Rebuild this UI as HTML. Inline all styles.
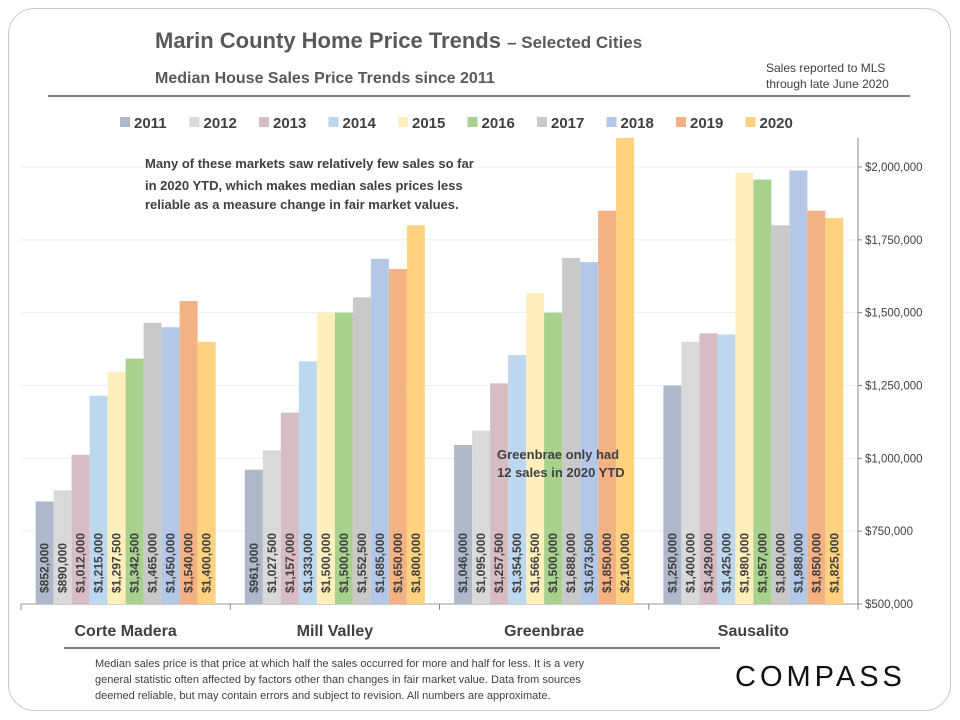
<!DOCTYPE html>
<html><head><meta charset="utf-8"><style>
body{margin:0;background:#fff;font-family:"Liberation Sans",sans-serif;}
#wrap{position:relative;width:960px;height:720px;overflow:hidden;}
</style></head><body>
<div id="wrap">
<svg id="svg" width="960" height="720" xmlns="http://www.w3.org/2000/svg" style="position:absolute;left:0;top:0">
<rect x="8.5" y="8.5" width="942" height="702" rx="26" fill="#fff" stroke="#c8c8c8"/>
<text x="155" y="48" font-size="22" font-weight="bold" fill="#595959">Marin County Home Price Trends <tspan font-size="17">– Selected Cities</tspan></text>
<text x="155" y="83" font-size="16" font-weight="bold" fill="#595959">Median House Sales Price Trends since 2011</text>
<text x="766" y="72" font-size="12" fill="#404040">Sales reported to MLS</text>
<text x="766" y="88" font-size="12" fill="#404040">through late June 2020</text>
<line x1="48" y1="96" x2="910" y2="96" stroke="#7f7f7f" stroke-width="2"/>
<g id="grid"></g><g id="bars"></g><g id="labels"></g><g id="axis"></g><g id="legend"></g>
<text x="145" y="168" font-size="13" font-weight="bold" fill="#404040">Many of these markets saw relatively few sales so far</text>
<text x="145" y="190" font-size="13" font-weight="bold" fill="#404040">in 2020 YTD, which makes median sales prices less</text>
<text x="145" y="209" font-size="13" font-weight="bold" fill="#404040">reliable as a measure change in fair market values.</text>
<text x="497" y="459" font-size="13" font-weight="bold" fill="#404040">Greenbrae  only  had</text>
<text x="497" y="477" font-size="13" font-weight="bold" fill="#404040">12 sales in 2020 YTD</text>
<line x1="64" y1="648" x2="720" y2="648" stroke="#7f7f7f" stroke-width="2"/>
<text x="95" y="667" font-size="11" fill="#404040">Median sales price is that price at which half the sales occurred for more and half for less. It is a very</text>
<text x="95" y="683" font-size="11" fill="#404040">general statistic often affected by factors other than changes in fair market value. Data from sources</text>
<text x="95" y="699" font-size="11" fill="#404040">deemed reliable, but may contain errors and subject to revision. All numbers are approximate.</text>
<text x="735" y="686" font-size="29" fill="#111" letter-spacing="4">COMPASS</text>
</svg>
</div>
<script>
const categories=["Corte Madera","Mill Valley","Greenbrae","Sausalito"];
const years=["2011","2012","2013","2014","2015","2016","2017","2018","2019","2020"];
const colors=["#adb9cb","#d9d9d9","#d6bdc4","#bdd7ee","#ffefbc","#a9d18e","#c9c9c9","#b4c7e7","#f4b183","#ffd27f"];
const corteMadera=[852000,890000,1012000,1215000,1297500,1342500,1465000,1450000,1540000,1400000];
const millValley=[961000,1027500,1157000,1333000,1500000,1500000,1552500,1685000,1650000,1800000];
const greenbrae=[1046000,1095000,1257500,1354500,1566500,1500000,1688000,1673500,1850000,2100000];
const sausalito=[1250000,1400000,1429000,1425000,1980000,1957000,1800000,1988000,1850000,1825000];
const series=[corteMadera,millValley,greenbrae,sausalito];
const yTicks=[500000,750000,1000000,1250000,1500000,1750000,2000000];
const NS="http://www.w3.org/2000/svg";
const X0=21,X1=858,Y0=604,YT=167;
const yScale=v=>Y0-(v-500000)/1500000*(Y0-YT);
const gw=(X1-X0)/categories.length,bw=18;
function mk(t,a,p){const e=document.createElementNS(NS,t);for(const k in a)e.setAttribute(k,a[k]);document.getElementById(p).appendChild(e);return e;}
const fmt=v=>"$"+v.toLocaleString("en-US");
yTicks.forEach(t=>{const y=yScale(t);
 const l=mk("line",{x1:X0,x2:X1,y1:y,y2:y,stroke:t==500000?"#999":"#eeeeee"},"grid");
 
 
 const k=mk("line",{x1:X1,x2:X1+4,y1:y,y2:y,stroke:"#888"},"axis");
 
 
 const tx=mk("text",{x:X1+7,y:y+4,"font-size":"11.5",fill:"#404040"},"axis");
 tx.textContent=fmt(t);
 
 
});
const ax=mk("line",{x1:X1,x2:X1,y1:138,y2:Y0,stroke:"#888"},"axis");


for(let g=0;g<=categories.length;g++){const x=X0+g*gw;
 const l=mk("line",{x1:x,x2:x,y1:Y0,y2:Y0+6,stroke:"#888"},"axis");
 
 }
categories.forEach((c,g)=>{
 const gx=X0+g*gw+(gw-bw*years.length)/2;
 series[g].forEach((v,i)=>{const x=gx+i*bw,y=yScale(v);
  const r=mk("rect",{x:x,y:y,width:bw,height:Y0-y,fill:colors[i]},"bars");
  
  
  const t=mk("text",{x:0,y:0,"font-size":"12","font-weight":"bold",fill:"#404040",transform:`translate(${x+bw/2+4},593) rotate(-90)`},"labels");
  t.textContent=fmt(v);
  
  
 });
 const t=mk("text",{x:X0+g*gw+gw/2,y:636,"font-size":"16","font-weight":"bold",fill:"#404040","text-anchor":"middle"},"axis");
 t.textContent=c;
 
 
});
years.forEach((yv,i)=>{const x=120+i*69.5;
 const r=mk("rect",{x:x,y:117,width:10,height:10,fill:colors[i]},"legend");
 
 
 const t=mk("text",{x:x+14,y:128,"font-size":"15","font-weight":"bold",fill:"#404040"},"legend");
 t.textContent=yv;
 
 
});
</script>
</body></html>
